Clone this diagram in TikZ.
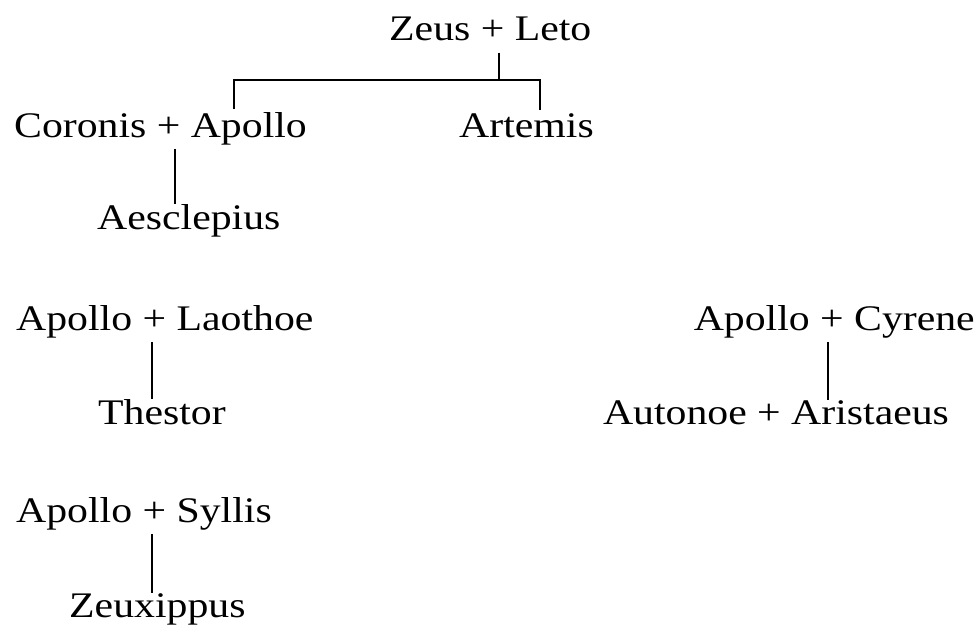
\documentclass[tikz,border=0pt]{standalone}
\usepackage{fontspec}
\setmainfont[FakeStretch=1.16]{Liberation Serif}
\begin{document}
\begin{tikzpicture}[x=1pt,y=-1pt,
  person/.style={inner sep=0pt,anchor=base west,font=\fontsize{36}{40}\selectfont},
  link/.style={line width=1.6pt}]
\useasboundingbox (0,0) rectangle (979,625);
\node[person] (zl) at (389,40) {Zeus + Leto};
\node[person] (ca) at (14,137) {Coronis + Apollo};
\node[person] (ar) at (459,137) {Artemis};
\node[person] (ae) at (97,229) {Aesclepius};
\node[person] (al) at (16,330) {Apollo + Laothoe};
\node[person] (th) at (98,424) {Thestor};
\node[person,anchor=base east] (ac) at (975,330) {Apollo + Cyrene};
\node[person,anchor=base] (aa) at (776,424) {Autonoe + Aristaeus};
\node[person] (as) at (16,522) {Apollo + Syllis};
\node[person] (zx) at (69,617) {Zeuxippus};
\coordinate (J) at (499,80);
\coordinate (L) at (234,80);
\coordinate (R) at (540,80);
\coordinate (x1) at (175,0);
\coordinate (x2) at (152,0);
\coordinate (x3) at (828,0);
\draw[link,shorten <=12pt] (zl.south -| J) -- (J);
\draw[link,shorten <=3pt,shorten >=3pt] (ca.north -| L) -- (L) -- (R) -- (ar.north -| R);
\draw[link,shorten <=4pt] (ca.south -| x1) -- (ae.north -| x1);
\draw[link,shorten <=4pt] (al.south -| x2) -- (th.north -| x2);
\draw[link,shorten <=4pt] (ac.south -| x3) -- (aa.north -| x3);
\draw[link,shorten <=4pt] (as.south -| x2) -- (zx.north -| x2);
\end{tikzpicture}
\end{document}
